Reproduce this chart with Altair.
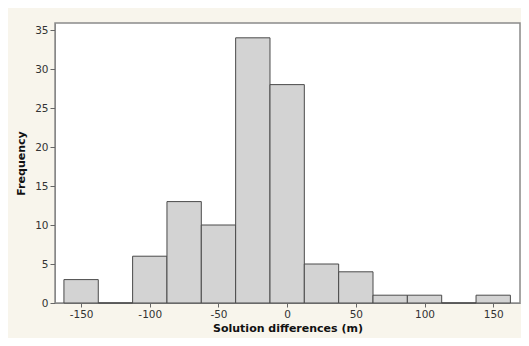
import altair as alt
import pandas as pd

# Histogram data
bin_centers = [-150, -125, -100, -75, -50, -25, 0, 25, 50, 75, 100, 125, 150]
frequencies = [3, 0, 6, 13, 10, 34, 28, 5, 4, 1, 1, 0, 1]
bin_width = 25
x_ticks = [-150, -100, -50, 0, 50, 100, 150]
y_ticks = [0, 5, 10, 15, 20, 25, 30, 35]

df = pd.DataFrame({
    "lo": [c - bin_width / 2 for c in bin_centers],
    "hi": [c + bin_width / 2 for c in bin_centers],
    "freq": frequencies,
})

FONT = "DejaVu Sans"

chart = alt.Chart(df).mark_bar(
    fill="#d3d3d3", stroke="#4a4a4a", strokeWidth=1
).encode(
    x=alt.X("lo:Q",
            scale=alt.Scale(domain=[-169, 169.5], nice=False, zero=False),
            axis=alt.Axis(values=x_ticks, title="Solution differences (m)",
                          labelExpr="datum.value + ''",
                          tickSize=4, labelPadding=2, titlePadding=3,
                          grid=False, domainColor="#888888", tickColor="#666666",
                          labelFont=FONT, labelFontSize=10.5, labelColor="#333333",
                          titleFont=FONT, titleFontSize=11, titleFontWeight="bold",
                          titleColor="#111111")),
    x2="hi:Q",
    y=alt.Y("freq:Q",
            scale=alt.Scale(domain=[0, 35.9], nice=False),
            axis=alt.Axis(values=y_ticks, title="Frequency",
                          tickSize=5, labelPadding=2, titlePadding=8,
                          grid=False, domainColor="#888888", tickColor="#666666",
                          labelFont=FONT, labelFontSize=10.5, labelColor="#333333",
                          titleFont=FONT, titleFontSize=11, titleFontWeight="bold",
                          titleColor="#111111")),
    y2=alt.datum(0),
).properties(
    width=465,
    height=280,
    autosize=alt.AutoSizeParams(type="none"),
    padding={"left": 47, "top": 15, "right": 1, "bottom": 35},
    background="#f8f5ec",
).configure_view(
    fill="white", stroke="#8a8a8a", strokeWidth=1.5
)

chart.save("out.html", embed_options={"renderer": "svg", "actions": False})
